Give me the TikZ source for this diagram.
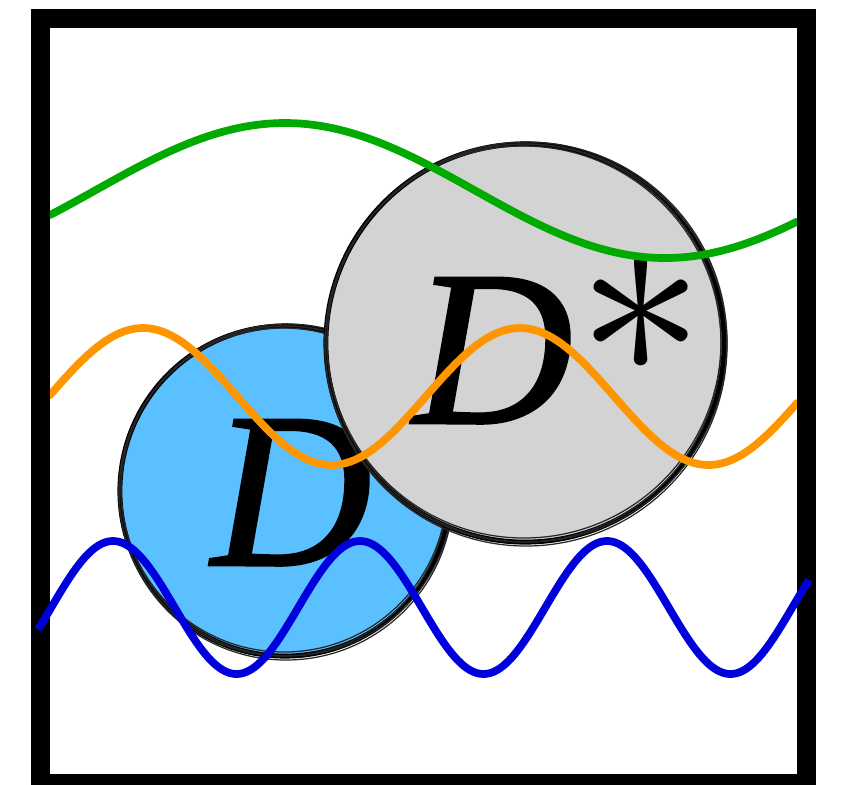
\RequirePackage{fix-cm}
\documentclass[tikz,border=0pt]{standalone}
\usepackage{xcolor,graphicx}
\usepackage{fontspec}
\setmainfont{Liberation Serif}
\newfontface\dfont{Liberation Serif Italic}[FakeBold=1.2]
\definecolor{wvgreen}{RGB}{0,170,0}
\definecolor{wvorange}{RGB}{255,150,0}
\definecolor{wvblue}{RGB}{0,0,220}
\definecolor{discblue}{RGB}{90,192,255}
\definecolor{discgray}{RGB}{211,211,211}
\usepackage{tikz}
\usetikzlibrary{calc}

\begin{document}
\begin{tikzpicture}[x=0.01cm,y=-0.01cm,
  disc/.style={draw,circle,line width=1.4pt,inner sep=0pt},
  sketch/.style={line width=0.35pt,black!85},
  biglabel/.style={inner sep=0pt,anchor=base west,font=\fontsize{63}{63}\dfont},
  wave/.style={line width=2.2pt,line cap=round}]
  \useasboundingbox (0,0) rectangle (846,784);
  \node[disc,fill=discblue,minimum size=3.3cm] (d) at (285,491) {};
  \foreach \dx/\dy/\r in {2/-1/166,-2/1/164,1/2/167,-1/-2/163}{\draw[sketch] ($(d)+(\dx,\dy)$) circle (\r);}
  \node[biglabel] (dlabel) at (211,565) {D};
  \node[disc,fill=discgray,minimum size=3.98cm] (dstar) at (525,343) {};
  \foreach \dx/\dy/\r in {2/-1/200,-2/1/198,1/2/201,-1/-2/197}{\draw[sketch] ($(dstar)+(\dx,\dy)$) circle (\r);}
  \node[biglabel] (dstarlabel) at (412,423) {D\kern0.02em\raisebox{0.22em}{\scalebox{1.15}{$\ast$}}};
  \draw[wave,wvgreen] plot[domain=50:797,samples=120] (\x,{190.5-67.5*cos((\x-285)/760*360)});
  \draw[wave,wvorange] plot[domain=50:797,samples=160] (\x,{396.5-68.5*cos((\x-143)/377*360)});
  \draw[line width=5.4pt] (40.5,18.5) rectangle (806,783.5);
  \draw[wave,wvblue,line cap=butt] plot[domain=38:809,samples=240] (\x,{607.5-66.5*cos((\x-113)/247*360)});
\end{tikzpicture}
\end{document}
